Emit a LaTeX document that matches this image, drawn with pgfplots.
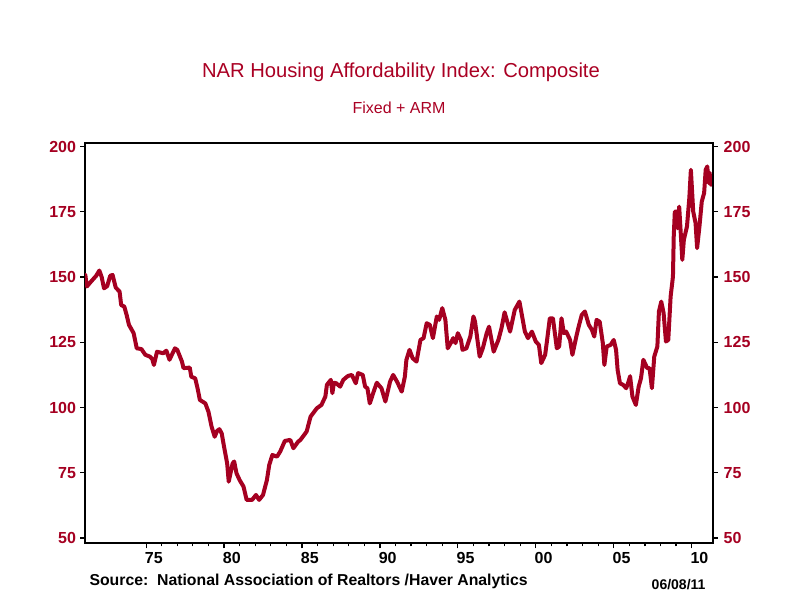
\documentclass[border=0pt]{standalone}
\usepackage{fontspec}
\setmainfont{Liberation Sans}
\usepackage{pgfplots}
\usepackage{pgfplotstable}
\pgfplotsset{compat=1.18}
\definecolor{narred}{RGB}{165,0,33}
\definecolor{titlered}{RGB}{170,0,35}
\pgfplotstableread{
x y
1971.10 150.8
1971.20 146.4
1971.50 148.5
1971.80 150.5
1972.00 152.5
1972.15 150.0
1972.30 145.7
1972.50 146.5
1972.70 150.5
1972.85 150.8
1973.05 146.0
1973.30 144.4
1973.40 139.3
1973.60 138.7
1973.75 135.5
1973.90 131.7
1974.20 128.5
1974.40 122.7
1974.60 122.5
1974.70 122.4
1974.95 120.2
1975.25 119.5
1975.40 118.5
1975.50 116.3
1975.70 121.4
1976.10 120.8
1976.30 121.8
1976.50 118.3
1976.85 122.7
1977.00 122.1
1977.30 117.6
1977.40 115.1
1977.80 115.3
1977.90 111.8
1978.15 111.2
1978.30 107.4
1978.45 102.9
1978.80 101.6
1979.00 98.4
1979.20 92.7
1979.40 88.8
1979.55 91.0
1979.70 91.7
1979.85 90.1
1980.00 85.0
1980.20 78.6
1980.30 71.6
1980.55 78.6
1980.65 79.3
1980.80 74.8
1981.00 72.2
1981.25 69.7
1981.45 64.6
1981.80 64.6
1982.05 66.5
1982.25 64.6
1982.50 66.5
1982.75 72.2
1982.90 78.0
1983.10 81.8
1983.40 81.2
1983.60 83.1
1983.90 87.2
1984.25 87.6
1984.45 84.4
1984.75 86.9
1984.90 87.6
1985.30 90.8
1985.55 96.5
1985.95 99.7
1986.25 101.0
1986.50 104.2
1986.60 108.7
1986.85 110.6
1986.95 105.5
1987.05 109.5
1987.20 109.3
1987.45 108.0
1987.65 110.6
1987.95 112.1
1988.20 112.5
1988.45 109.3
1988.60 113.2
1988.90 112.5
1989.05 108.0
1989.20 107.4
1989.35 101.6
1989.60 106.1
1989.80 109.5
1990.10 107.4
1990.35 102.3
1990.65 109.9
1990.85 112.5
1991.10 109.9
1991.40 106.1
1991.60 111.8
1991.70 118.3
1991.90 122.1
1992.10 118.9
1992.35 117.6
1992.60 125.9
1992.80 126.6
1993.00 132.3
1993.20 131.7
1993.40 126.6
1993.65 134.9
1993.80 133.6
1994.00 138.1
1994.20 133.6
1994.35 122.7
1994.60 125.3
1994.70 126.6
1994.85 124.7
1995.00 128.5
1995.20 125.9
1995.30 122.1
1995.55 122.7
1995.80 127.2
1996.00 134.9
1996.10 133.0
1996.40 119.5
1996.60 122.7
1996.85 128.5
1997.00 131.0
1997.30 121.4
1997.60 125.9
1997.80 130.4
1998.00 136.5
1998.35 129.1
1998.65 137.4
1998.95 140.6
1999.30 129.1
1999.50 126.6
1999.75 129.1
2000.00 125.3
2000.20 124.0
2000.35 117.0
2000.60 120.2
2000.70 124.7
2000.90 134.2
2001.10 134.2
2001.35 122.7
2001.50 123.4
2001.65 134.2
2001.80 128.5
2001.95 129.1
2002.20 125.9
2002.35 120.2
2002.60 127.2
2002.75 131.0
2002.95 135.5
2003.15 136.8
2003.40 131.7
2003.60 129.8
2003.75 127.2
2003.90 133.6
2004.10 132.9
2004.30 124.7
2004.40 116.3
2004.55 123.4
2004.80 124.0
2005.00 125.9
2005.15 122.1
2005.25 114.4
2005.40 109.3
2005.60 108.7
2005.80 107.4
2005.95 109.9
2006.05 112.0
2006.20 104.2
2006.42 101.0
2006.60 108.0
2006.75 111.2
2006.90 118.3
2007.15 115.1
2007.30 115.1
2007.45 107.4
2007.60 119.5
2007.80 123.4
2007.90 136.8
2008.05 140.6
2008.20 136.2
2008.35 125.3
2008.50 125.9
2008.65 142.5
2008.80 150.2
2008.85 165.5
2008.92 175.1
2009.00 175.1
2009.10 168.7
2009.20 177.0
2009.30 166.8
2009.40 156.6
2009.50 164.3
2009.70 169.4
2009.85 180.3
2009.95 191.1
2010.10 175.1
2010.25 170.7
2010.35 161.1
2010.50 169.4
2010.65 179.0
2010.80 182.2
2010.90 191.1
2011.00 192.4
2011.10 186.0
2011.15 190.0
2011.25 185.4
}\nardata
\begin{document}
\begin{tikzpicture}[x=1pt,y=1pt]
\path[use as bounding box] (0,0) rectangle (801,601);
\pgfplotsset{
  common/.style={
    at={(85pt,57.7pt)}, anchor=south west,
    scale only axis, width=627.7pt, height=400.6pt,
    xmin=1971.08, xmax=2011.35, ymin=47.97, ymax=201.5,
    ytick={50,75,100,125,150,175,200},
    tick align=outside,
    major tick length=5pt, minor tick length=3pt,
    tick style={line width=1.2pt, black},
    /pgf/number format/assume math mode=true,
    yticklabel style={font=\bfseries\fontsize{16}{16}\selectfont, text=narred},
  }
}
\begin{axis}[
  common,
  axis line style={line width=2.2pt},
  ytick pos=left,
  xtick pos=bottom,
  xtick={1975,1980,...,2010},
  xticklabels={},
  minor x tick num=4,
  extra x ticks={1975.5,1980.5,1985.5,1990.5,1995.5,2000.5,2005.5,2010.5},
  extra x tick labels={75,80,85,90,95,00,05,10},
  extra x tick style={major tick length=0pt, tick style={draw=none},
     xticklabel style={font=\bfseries\fontsize{16}{16}\selectfont, text=black, yshift=-6pt}},
  yticklabel style={xshift=-0.5pt},
  clip=true,
]
\addplot[color=narred, line width=4pt, line join=round, line cap=round] table[x=x,y=y] {\nardata};
\end{axis}
\begin{axis}[
  common,
  axis y line*=right,
  axis x line=none,
  axis line style={line width=2.2pt},
  ytick pos=right,
  yticklabel style={xshift=2.5pt},
]
\end{axis}
\node[text=titlered, font=\fontsize{20.2}{22}\selectfont] at (401,529) {NAR Housing Affordability Index: Composite};
\node[text=titlered, font=\fontsize{16}{18}\selectfont] at (399,493) {Fixed + ARM};
\node[anchor=west, font=\bfseries\fontsize{15.8}{17}\selectfont] at (86,20) {Source:\ \ National Association of Realtors /Haver Analytics};
\node[anchor=east, font=\bfseries\fontsize{14}{16}\selectfont] at (709,16) {06/08/11};
\end{tikzpicture}
\end{document}
